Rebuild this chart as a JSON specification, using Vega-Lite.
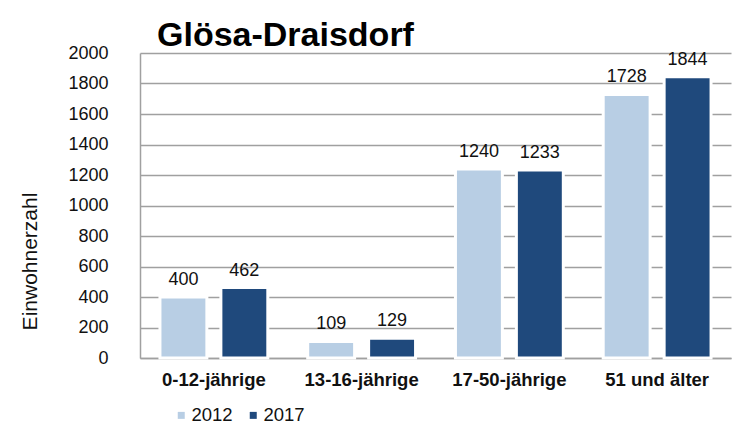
{
  "$schema": "https://vega.github.io/schema/vega-lite/v6.json",
  "autosize": {"type": "none"},
  "padding": {"left": 140, "top": 53, "right": 13, "bottom": 70},
  "width": 591,
  "height": 305,
  "background": "white",
  "title": {
    "text": "Glösa-Draisdorf",
    "anchor": "start",
    "font": "Liberation Sans",
    "fontSize": 34,
    "fontWeight": "bold",
    "color": "#000000",
    "dx": 138,
    "dy": 43,
    "offset": 0,
    "baseline": "bottom"
  },
  "data": {
    "values": [
      {"gruppe": "0-12-jährige", "jahr": "2012", "wert": 400},
      {"gruppe": "0-12-jährige", "jahr": "2017", "wert": 462},
      {"gruppe": "13-16-jährige", "jahr": "2012", "wert": 109},
      {"gruppe": "13-16-jährige", "jahr": "2017", "wert": 129},
      {"gruppe": "17-50-jährige", "jahr": "2012", "wert": 1240},
      {"gruppe": "17-50-jährige", "jahr": "2017", "wert": 1233},
      {"gruppe": "51 und älter", "jahr": "2012", "wert": 1728},
      {"gruppe": "51 und älter", "jahr": "2017", "wert": 1844}
    ]
  },
  "encoding": {
    "x": {
      "field": "gruppe",
      "type": "nominal",
      "sort": null,
      "scale": {"paddingInner": 0.27, "paddingOuter": 0.135},
      "axis": {
        "title": null,
        "labelAngle": 0,
        "labelFont": "Liberation Sans",
        "labelFontSize": 18.5,
        "labelFontWeight": "bold",
        "labelColor": "#111111",
        "labelPadding": 12,
        "ticks": false,
        "domainColor": "#a0a0a0",
        "domainWidth": 1.5,
        "grid": false
      }
    },
    "xOffset": {"field": "jahr", "type": "nominal", "scale": {"paddingInner": 0.23, "paddingOuter": 0}},
    "y": {
      "field": "wert",
      "type": "quantitative",
      "scale": {"domain": [0, 2000], "nice": false},
      "axis": {
        "values": [0, 200, 400, 600, 800, 1000, 1200, 1400, 1600, 1800, 2000],
        "format": "d",
        "title": "Einwohnerzahl",
        "titleFont": "Liberation Sans",
        "titleFontSize": 21,
        "titleFontWeight": "normal",
        "titleColor": "#111111",
        "titleAngle": -90,
        "titleAlign": "center",
        "titleBaseline": "alphabetic",
        "titleX": -104,
        "titleY": 208,
        "labelFont": "Liberation Sans",
        "labelFontSize": 18,
        "labelColor": "#111111",
        "labelPadding": 32,
        "ticks": false,
        "domainColor": "#a0a0a0",
        "domainWidth": 1.5,
        "grid": true,
        "gridColor": "#a0a0a0",
        "gridWidth": 1.5
      }
    }
  },
  "layer": [
    {
      "mark": {"type": "bar", "stroke": "white", "strokeWidth": 3},
      "encoding": {
        "color": {
          "field": "jahr",
          "type": "nominal",
          "scale": {"domain": ["2012", "2017"], "range": ["#b8cee4", "#1f497c"]},
          "legend": {
            "title": null,
            "orient": "none",
            "direction": "horizontal",
            "legendX": 32,
            "legendY": 353,
            "symbolType": "square",
            "symbolSize": 49,
            "symbolStrokeWidth": 0,
            "labelFont": "Liberation Sans",
            "labelFontSize": 18.5,
            "labelColor": "#111111",
            "labelOffset": 1,
            "columnPadding": 11
          }
        }
      }
    },
    {
      "mark": {"type": "text", "baseline": "alphabetic", "dy": -12, "font": "Liberation Sans", "fontSize": 18, "color": "#111111"},
      "encoding": {"text": {"field": "wert", "type": "quantitative"}}
    }
  ],
  "config": {"view": {"stroke": null}}
}
